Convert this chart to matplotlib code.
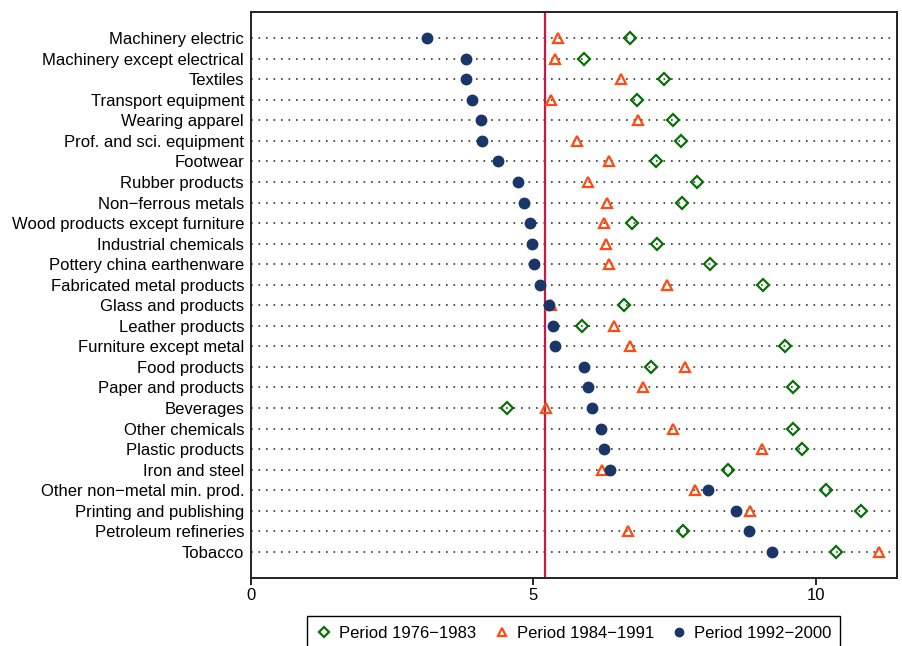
import matplotlib
matplotlib.use("Agg")
import matplotlib.pyplot as plt
import numpy as np

plt.rcParams['font.family'] = ['Liberation Sans', 'DejaVu Sans']

industries = [
    "Machinery electric", "Machinery except electrical", "Textiles",
    "Transport equipment", "Wearing apparel", "Prof. and sci. equipment",
    "Footwear", "Rubber products", "Non\u2212ferrous metals",
    "Wood products except furniture", "Industrial chemicals",
    "Pottery china earthenware", "Fabricated metal products",
    "Glass and products", "Leather products", "Furniture except metal",
    "Food products", "Paper and products", "Beverages", "Other chemicals",
    "Plastic products", "Iron and steel", "Other non\u2212metal min. prod.",
    "Printing and publishing", "Petroleum refineries", "Tobacco",
]

p1976 = [6.72, 5.89, 7.32, 6.84, 7.48, 7.61, 7.17, 7.90, 7.63, 6.74, 7.19,
         8.12, 9.06, 6.60, 5.87, 9.46, 7.08, 9.60, 4.53, 9.60, 9.75, 8.44,
         10.19, 10.81, 7.65, 10.36]
p1984 = [5.44, 5.38, 6.55, 5.32, 6.85, 5.78, 6.34, 5.96, 6.31, 6.25, 6.28,
         6.34, 7.37, 5.32, 6.42, 6.72, 7.68, 6.94, 5.22, 7.48, 9.05, 6.21,
         7.86, 8.83, 6.68, 11.13]
p1992 = [3.11, 3.80, 3.80, 3.92, 4.07, 4.09, 4.37, 4.73, 4.83, 4.94, 4.97,
         5.01, 5.12, 5.27, 5.34, 5.38, 5.90, 5.96, 6.03, 6.20, 6.25, 6.36,
         8.10, 8.59, 8.82, 9.23]
ref_line = 5.2

navy = "#1a3668"
orange = "#ff4a12"
green = "#0b6e0b"

fig = plt.figure(figsize=(9.02, 6.46), dpi=100)
ax = fig.add_axes([251/902, 1 - 578/646, (897-251)/902, (578-12)/646])

y = np.arange(len(industries))

# dotted guide lines
for yi in y:
    ax.plot([0, 11.44], [yi, yi], linestyle=(0, (1, 3.5)), color="#333333",
            linewidth=1.2, zorder=1)

ax.axvline(ref_line, color="#cc1744", linewidth=1.6, zorder=2)

ax.plot(p1976, y, linestyle="none", marker="D", markersize=6.5,
        markerfacecolor="none", markeredgecolor=green, markeredgewidth=1.6,
        label="Period 1976\u22121983", zorder=3)
ax.plot(p1984, y, linestyle="none", marker="^", markersize=7,
        markerfacecolor="none", markeredgecolor=orange, markeredgewidth=1.6,
        label="Period 1984\u22121991", zorder=3)
ax.plot(p1992, y, linestyle="none", marker="o", markersize=7.5,
        color=navy, label="Period 1992\u22122000", zorder=4)

ax.set_xlim(0, 11.44)
ax.set_ylim(len(industries) - 1 + 1.27, -1.27)
ax.set_xticks([0, 5, 10])
ax.set_yticks(y)
ax.set_yticklabels(industries)
ax.tick_params(axis="both", labelsize=12, direction="out", width=1.2,
               colors="black")
ax.tick_params(axis="x", length=5, pad=2)
ax.tick_params(axis="y", length=0, pad=5)
for s in ax.spines.values():
    s.set_linewidth(1.4)
    s.set_color("#222222")

fig.legend(loc="center", bbox_to_anchor=(0.636, 0.02), ncol=3,
           fontsize=12, frameon=True, fancybox=False, edgecolor="black",
           framealpha=1, handletextpad=0.4, columnspacing=1.0,
           handlelength=1.0, borderpad=0.55, markerscale=0.8)

fig.savefig("out.png", dpi=100)
